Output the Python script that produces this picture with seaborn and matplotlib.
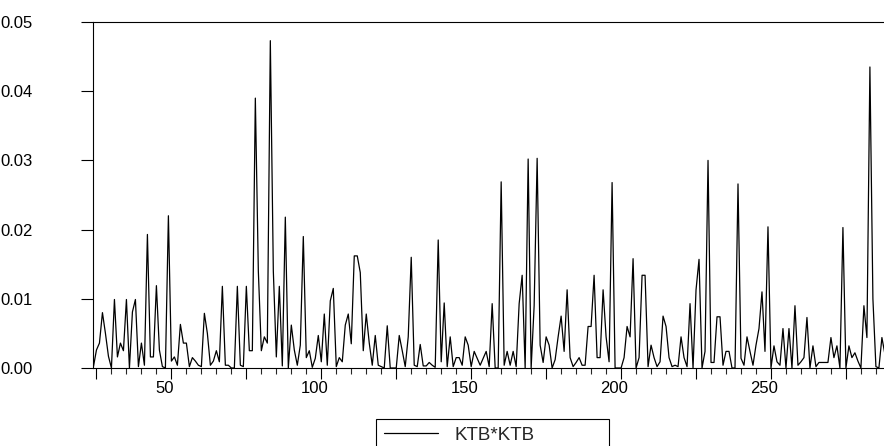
import numpy as np
import pandas as pd
import matplotlib
matplotlib.use('Agg')
import matplotlib.pyplot as plt
import matplotlib.transforms as mtransforms
from matplotlib.ticker import MultipleLocator, FuncFormatter
import seaborn as sns

sns.set_style('ticks')
plt.rcParams['font.family'] = ['Liberation Sans', 'DejaVu Sans']

# squared series KTB*KTB, one value per observation starting at obs 24
first_obs = 24
ktb_sq = [
    0.0002, 0.0026, 0.0036, 0.0080, 0.0050, 0.0017,                                  # 24-29
    0.0000, 0.0099, 0.0016, 0.0036, 0.0025, 0.0099, 0.0000, 0.0081, 0.0099, 0.0002,  # 30-39
    0.0036, 0.0004, 0.0193, 0.0016, 0.0016, 0.0119, 0.0026, 0.0002, 0.0000, 0.0220,  # 40-49
    0.0010, 0.0016, 0.0004, 0.0063, 0.0036, 0.0036, 0.0002, 0.0015, 0.0010, 0.0004,  # 50-59
    0.0002, 0.0079, 0.0050, 0.0004, 0.0010, 0.0025, 0.0009, 0.0118, 0.0004, 0.0004,  # 60-69
    0.0000, 0.0000, 0.0118, 0.0004, 0.0002, 0.0118, 0.0025, 0.0025, 0.0390, 0.0140,  # 70-79
    0.0025, 0.0045, 0.0036, 0.0473, 0.0140, 0.0016, 0.0118, 0.0003, 0.0218, 0.0000,  # 80-89
    0.0062, 0.0026, 0.0004, 0.0033, 0.0190, 0.0015, 0.0025, 0.0001, 0.0014, 0.0047,  # 90-99
    0.0009, 0.0078, 0.0004, 0.0097, 0.0115, 0.0002, 0.0015, 0.0009, 0.0062, 0.0078,  # 100-109
    0.0035, 0.0162, 0.0162, 0.0138, 0.0025, 0.0078, 0.0036, 0.0004, 0.0047, 0.0004,  # 110-119
    0.0002, 0.0000, 0.0061, 0.0000, 0.0000, 0.0000, 0.0047, 0.0025, 0.0002, 0.0045,  # 120-129
    0.0160, 0.0004, 0.0002, 0.0034, 0.0003, 0.0003, 0.0008, 0.0004, 0.0001, 0.0185,  # 130-139
    0.0009, 0.0094, 0.0002, 0.0045, 0.0002, 0.0015, 0.0015, 0.0004, 0.0045, 0.0033,  # 140-149
    0.0002, 0.0024, 0.0014, 0.0004, 0.0014, 0.0024, 0.0002, 0.0093, 0.0000, 0.0000,  # 150-159
    0.0269, 0.0004, 0.0024, 0.0004, 0.0024, 0.0002, 0.0093, 0.0134, 0.0000, 0.0302,  # 160-169
    0.0000, 0.0090, 0.0303, 0.0033, 0.0008, 0.0045, 0.0033, 0.0000, 0.0012, 0.0045,  # 170-179
    0.0075, 0.0024, 0.0113, 0.0015, 0.0002, 0.0008, 0.0015, 0.0004, 0.0004, 0.0060,  # 180-189
    0.0060, 0.0134, 0.0015, 0.0015, 0.0113, 0.0045, 0.0009, 0.0268, 0.0000, 0.0000,  # 190-199
    0.0000, 0.0015, 0.0060, 0.0045, 0.0158, 0.0000, 0.0015, 0.0134, 0.0134, 0.0002,  # 200-209
    0.0033, 0.0015, 0.0002, 0.0009, 0.0075, 0.0060, 0.0015, 0.0002, 0.0004, 0.0002,  # 210-219
    0.0045, 0.0015, 0.0002, 0.0093, 0.0000, 0.0113, 0.0157, 0.0000, 0.0024, 0.0300,  # 220-229
    0.0008, 0.0008, 0.0074, 0.0074, 0.0004, 0.0024, 0.0024, 0.0000, 0.0000, 0.0266,  # 230-239
    0.0014, 0.0004, 0.0045, 0.0024, 0.0004, 0.0033, 0.0057, 0.0110, 0.0024, 0.0204,  # 240-249
    0.0000, 0.0032, 0.0009, 0.0004, 0.0057, 0.0000, 0.0057, 0.0000, 0.0090, 0.0004,  # 250-259
    0.0009, 0.0015, 0.0073, 0.0000, 0.0032, 0.0002, 0.0008, 0.0008, 0.0008, 0.0008,  # 260-269
    0.0044, 0.0015, 0.0032, 0.0000, 0.0203, 0.0000, 0.0032, 0.0015, 0.0022, 0.0010,  # 270-279
    0.0000, 0.0090, 0.0044, 0.0435, 0.0100, 0.0002, 0.0000, 0.0044, 0.0020,          # 280-288
]
series_name = 'KTB*KTB'
y_ticks = [0.00, 0.01, 0.02, 0.03, 0.04, 0.05]

df = pd.DataFrame({'obs': np.arange(first_obs, first_obs + len(ktb_sq)),
                   'value': ktb_sq})

fig = plt.figure(figsize=(8.84, 4.46), dpi=100)
ax = fig.add_axes([93 / 884, 78 / 446, 791 / 884, 346 / 446])

sns.lineplot(data=df, x='obs', y='value', color='black', linewidth=0.9,
             label=series_name, ax=ax)

ax.set_xlim(23.85, 287.7)
ax.set_ylim(0, 0.05)
ax.set_xlabel('')
ax.set_ylabel('')

for side in ['left', 'bottom', 'top']:
    ax.spines[side].set_color('black')
    ax.spines[side].set_linewidth(0.8)
ax.spines['right'].set_visible(False)

# y axis
ax.set_yticks(y_ticks)
ax.yaxis.set_major_formatter(FuncFormatter(lambda v, p: f'{v:.2f}'))
ax.tick_params(axis='y', direction='out', length=8.3, width=0.8, pad=58.6,
               labelsize=12, colors='black')
for lbl in ax.get_yticklabels():
    lbl.set_ha('left')

# x axis: long ticks every 25, labels every 50, short ticks every 5
ax.xaxis.set_major_locator(MultipleLocator(25))
ax.xaxis.set_minor_locator(MultipleLocator(5))
ax.xaxis.set_major_formatter(FuncFormatter(lambda v, p: f'{int(v)}' if int(v) % 50 == 0 else ''))
ax.tick_params(axis='x', which='major', direction='out', length=8, width=0.8,
               pad=1.5, labelsize=12, colors='black')
ax.tick_params(axis='x', which='minor', direction='out', length=4, width=0.8)
shift = mtransforms.ScaledTranslation(-7 / 100, 0, fig.dpi_scale_trans)
for lbl in ax.get_xticklabels():
    lbl.set_transform(lbl.get_transform() + shift)

# legend box sits at the bottom edge and runs off the figure
ax.legend(loc='upper left', bbox_to_anchor=(376 / 884, 0, 233 / 884, 27 / 446),
          bbox_transform=fig.transFigure, mode='expand', borderaxespad=0,
          frameon=True, fancybox=False, edgecolor='black', framealpha=1,
          fontsize=13.5, handlelength=2.93, handletextpad=0.85, borderpad=0.4)
ax.get_legend().get_frame().set_linewidth(0.8)

fig.savefig('out.png', dpi=100)
